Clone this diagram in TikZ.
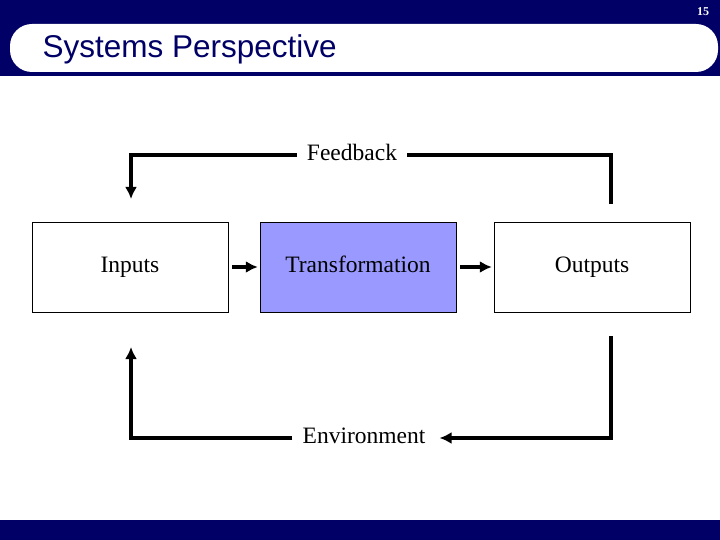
\documentclass[tikz,border=0pt]{standalone}
\usepackage{fontspec}
\setmainfont{Liberation Serif}
\setsansfont{Liberation Sans}
\usetikzlibrary{positioning,arrows.meta}
\definecolor{navy}{HTML}{000066}
\definecolor{lilac}{HTML}{9999FF}
\begin{document}
\begin{tikzpicture}[x=1pt,y=-1pt,
    block/.style={draw, thin, minimum width=196pt, minimum height=90pt, text height=16pt, text depth=5pt, font=\fontsize{23.5}{26}\selectfont},
    lab/.style={font=\fontsize{23.5}{26}\selectfont, text height=16pt, text depth=5pt, inner sep=2pt},
    flow/.style={line width=4pt, -{Latex[length=12pt,width=12pt]}},
    loop/.style={line width=4pt}]
        \useasboundingbox (0,0) rectangle (720,540);
        \fill[navy] (0,0) rectangle (720,76);
        \fill[white, rounded corners=22pt] (10,24) rectangle (718,72);
        \fill[navy] (0,520) rectangle (720,540);
        \node[white, font=\bfseries\fontsize{12}{14}\selectfont] at (703,12)(pg){15};
        \node[navy, anchor=west, font=\sffamily\fontsize{31.5}{34}\selectfont] at (39,49)(title){Systems Perspective};

        \node[block] at (130, 267)(in){Inputs};
        \node[block, fill=lilac] at (358, 267)(tr){Transformation};
        \node[block] at (592, 267)(out){Outputs};
        \node[lab] at (352, 155)(fb){Feedback};
        \node[lab] at (364, 438)(env){Environment};

        \coordinate (fbr) at (611, 204);
        \coordinate (fbl) at (131, 199);
        \coordinate (envr) at (611, 336);
        \coordinate (envl) at (131, 347);

        \draw[flow, shorten >=2pt, shorten <=4pt] (in) -- (tr);
        \draw[flow, shorten >=2pt, shorten <=4pt] (tr) -- (out);
        \draw[loop] (fbr) |- ([xshift=8pt]fb.east);
        \draw[flow] ([xshift=-8pt]fb.west) -| (fbl);
        \draw[flow] (envr) |- ([xshift=12pt]env.east);
        \draw[flow] ([xshift=-8pt]env.west) -| (envl);
    \end{tikzpicture}
\end{document}
